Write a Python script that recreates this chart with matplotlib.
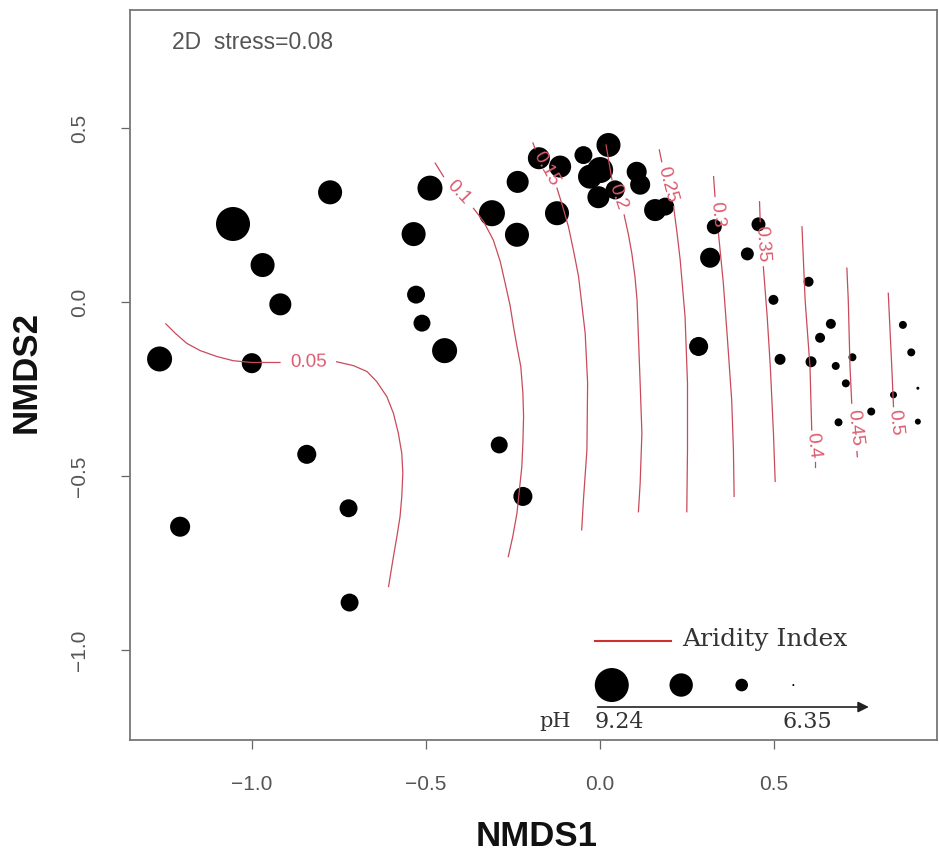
import numpy as np
import matplotlib
matplotlib.use("Agg")
import matplotlib.pyplot as plt

# NMDS site scores and soil pH
nmds1 = [-1.055, -0.776, -0.970, -0.919, -1.266, -1.001, -0.489, -0.536, -0.529, -0.512,
         -0.447, -0.311, -0.237, -0.239, -0.176, -0.115, -0.124, -0.048, 0.024, 0.000,
         -0.029, -0.005, 0.043, 0.105, 0.115, 0.158, 0.187, 0.328, 0.316, 0.455,
         0.423, 0.498, 0.599, 0.663, 0.632, 0.870, 0.894, 0.283, 0.517, 0.606,
         0.677, 0.725, 0.706, 0.843, 0.913, 0.779, 0.685, 0.913, -0.290, -0.222,
         -0.843, -0.723, -1.207, -0.720]
nmds2 = [0.224, 0.315, 0.106, -0.007, -0.164, -0.176, 0.327, 0.195, 0.021, -0.061,
         -0.140, 0.255, 0.345, 0.193, 0.413, 0.389, 0.255, 0.422, 0.451, 0.379,
         0.360, 0.301, 0.322, 0.374, 0.337, 0.264, 0.274, 0.216, 0.127, 0.223,
         0.138, 0.006, 0.058, -0.063, -0.103, -0.066, -0.145, -0.128, -0.165, -0.172,
         -0.184, -0.159, -0.234, -0.267, -0.248, -0.315, -0.346, -0.344, -0.411, -0.559,
         -0.438, -0.593, -0.646, -0.864]
ph = [9.24, 8.34, 8.34, 8.16, 8.43, 7.98, 8.43, 8.34, 7.79, 7.70,
      8.43, 8.52, 8.16, 8.34, 8.16, 8.16, 8.34, 7.79, 8.34, 8.52,
      8.34, 8.16, 7.89, 7.98, 7.98, 8.16, 7.79, 7.52, 7.98, 7.43,
      7.34, 7.07, 7.07, 7.07, 7.07, 6.89, 6.89, 7.89, 7.16, 7.16,
      6.89, 6.89, 6.89, 6.80, 6.44, 6.89, 6.89, 6.71, 7.70, 7.89,
      7.89, 7.79, 7.98, 7.79]

ai_levels = [0.05, 0.1, 0.15, 0.2, 0.25, 0.3, 0.35, 0.4, 0.45, 0.5]
ai_x = [
    [-1.248, -1.221, -1.188, -1.149, -1.101, -1.054, -1.001, -0.920, -0.757, -0.709, -0.670,
     -0.642, -0.613, -0.594, -0.580, -0.570, -0.567, -0.570, -0.575, -0.584, -0.594, -0.608],
    [-0.474, -0.450, -0.364, -0.335, -0.307, -0.287, -0.273, -0.259, -0.249, -0.239, -0.228,
     -0.222, -0.220, -0.222, -0.225, -0.232, -0.239, -0.251, -0.264],
    [-0.193, -0.187, -0.124, -0.107, -0.091, -0.076, -0.062, -0.043, -0.036, -0.038, -0.048, -0.053],
    [0.017, 0.034, 0.069, 0.081, 0.091, 0.100, 0.106, 0.115, 0.120, 0.115, 0.110],
    [0.170, 0.177, 0.211, 0.221, 0.230, 0.244, 0.251, 0.251, 0.249],
    [0.326, 0.330, 0.340, 0.354, 0.366, 0.378, 0.383, 0.385],
    [0.458, 0.460, 0.469, 0.480, 0.489, 0.498, 0.503],
    [0.580, 0.589, 0.603, 0.608, 0.618, 0.618],
    [0.709, 0.713, 0.718, 0.723, 0.738, 0.739],
    [0.828, 0.838, 0.843, 0.853],
]
ai_y = [
    [-0.063, -0.090, -0.119, -0.140, -0.157, -0.169, -0.174, -0.174, -0.172, -0.183, -0.200,
     -0.229, -0.272, -0.320, -0.377, -0.435, -0.492, -0.559, -0.617, -0.674, -0.732, -0.818],
    [0.399, 0.360, 0.269, 0.231, 0.178, 0.116, 0.054, -0.009, -0.071, -0.128, -0.186,
     -0.262, -0.330, -0.406, -0.473, -0.540, -0.607, -0.674, -0.732],
    [0.457, 0.440, 0.327, 0.272, 0.216, 0.145, 0.073, -0.090, -0.234, -0.425, -0.569, -0.655],
    [0.451, 0.351, 0.250, 0.195, 0.140, 0.073, 0.006, -0.234, -0.377, -0.521, -0.603],
    [0.437, 0.403, 0.274, 0.198, 0.121, -0.042, -0.234, -0.425, -0.603],
    [0.360, 0.303, 0.197, 0.054, -0.109, -0.282, -0.425, -0.559],
    [0.288, 0.231, 0.101, -0.042, -0.186, -0.377, -0.516],
    [0.216, 0.006, -0.186, -0.368, -0.459, -0.473],
    [0.097, 0.006, -0.186, -0.291, -0.430, -0.445],
    [0.025, -0.186, -0.301, -0.392],
]
# segment index where the label sits
ai_gap = [7, 1, 1, 1, 1, 1, 1, 3, 3, 2]

legend_ph = [9.24, 8.28, 7.31, 6.35]
stress = 0.08

DPI = 100


def bubble(p):
    r = 1 + 16 * (np.asarray(p) - 6.35) / (9.24 - 6.35)   # radius in px
    return (2 * r * 72 / DPI) ** 2


fig = plt.figure(figsize=(9.39, 8.56), dpi=DPI)
ax = fig.add_axes([130 / 939, 116 / 856, 807 / 939, 730 / 856])
ax.set_xlim(-1.351, 0.968)
ax.set_ylim(-1.259, 0.839)

ax.scatter(nmds1, nmds2, s=bubble(ph), c="black", edgecolors="none", zorder=2)

line_col = "#c94a5a"
lab_col = "#dc5a6e"
for lev, xs, ys, g in zip(ai_levels, ai_x, ai_y, ai_gap):
    ax.plot(xs[:g + 1], ys[:g + 1], color=line_col, lw=0.9, zorder=3)
    ax.plot(xs[g + 1:], ys[g + 1:], color=line_col, lw=0.9, zorder=3)
    ang = np.degrees(np.arctan2(ys[g + 1] - ys[g], xs[g + 1] - xs[g]))
    if ang > 90:
        ang -= 180
    elif ang <= -90:
        ang += 180
    ax.text((xs[g] + xs[g + 1]) / 2, (ys[g] + ys[g + 1]) / 2, f"{lev:g}",
            rotation=ang, rotation_mode="anchor", ha="center", va="center",
            color=lab_col, fontsize=13.5, family="Liberation Sans", zorder=4)

ax.text(0.052, 0.956, f"2D  stress={stress}", transform=ax.transAxes,
        fontsize=16.5, color="#555555", family="Liberation Sans", va="center")

# legend
ax.plot([0.576, 0.670], [0.136, 0.136], transform=ax.transAxes, color="#d03030", lw=1.5)
ax.text(0.684, 0.137, "Aridity Index", transform=ax.transAxes, fontsize=18,
        family="DejaVu Serif", color="#333333", va="center")
ax.scatter([0.597, 0.683, 0.758, 0.822], [0.0753] * 4, s=bubble(legend_ph),
           c="black", edgecolors="none", transform=ax.transAxes, clip_on=False)
ax.annotate("", xy=(0.919, 0.0452), xytext=(0.576, 0.0452), xycoords="axes fraction",
            arrowprops=dict(arrowstyle="-|>", color="#222222", lw=1.2, mutation_scale=16))
ax.text(0.527, 0.0247, "pH", transform=ax.transAxes, fontsize=15,
        family="DejaVu Serif", color="#333333", ha="center", va="center")
ax.text(0.576, 0.0247, f"{legend_ph[0]}", transform=ax.transAxes, fontsize=16,
        family="DejaVu Serif", color="#333333", va="center")
ax.text(0.808, 0.0247, f"{legend_ph[-1]}", transform=ax.transAxes, fontsize=16,
        family="DejaVu Serif", color="#333333", va="center")

ax.set_xticks([-1.0, -0.5, 0.0, 0.5])
ax.set_yticks([-1.0, -0.5, 0.0, 0.5])
ax.set_xticklabels(["\u22121.0", "\u22120.5", "0.0", "0.5"])
ax.set_yticklabels(["\u22121.0", "\u22120.5", "0.0", "0.5"], rotation=90, va="center")
ax.tick_params(axis="both", length=6.5, width=0.9, color="#666666",
               labelcolor="#555555", labelsize=15)
ax.tick_params(axis="x", pad=19)
ax.tick_params(axis="y", pad=23)
for lbl in ax.get_xticklabels() + ax.get_yticklabels():
    lbl.set_family("Liberation Sans")
for sp in ax.spines.values():
    sp.set_color("#777777")
    sp.set_linewidth(1.3)

fig.text(537 / 939, (856 - 836) / 856, "NMDS1", fontsize=25, fontweight="bold",
         family="Liberation Sans", ha="center", va="center", color="#111111")
fig.text(26 / 939, (856 - 372) / 856, "NMDS2", fontsize=25, fontweight="bold",
         family="Liberation Sans", ha="center", va="center", rotation=90, color="#111111")

fig.savefig("out.png", dpi=DPI)
